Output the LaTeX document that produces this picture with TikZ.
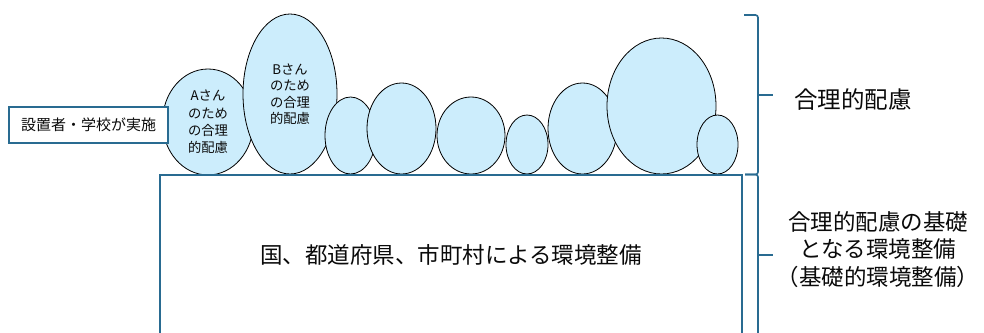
\documentclass[tikz,border=0pt]{standalone}
\usepackage{fontspec}
\setmainfont{Noto Sans CJK JP}
\usetikzlibrary{shapes.geometric}
\definecolor{bubble}{RGB}{204,237,252}
\definecolor{frame}{RGB}{41,107,145}
\definecolor{ink}{RGB}{10,10,10}
\tikzset{
  bub/.style={ellipse, draw=black, line width=0.8pt, fill=bubble, inner sep=0pt, align=center, text=ink,
    font=\fontsize{13.3}{17.3}\selectfont},
  envbox/.style={draw=frame, line width=1.6pt, fill=white, inner sep=0pt, text=ink,
    font=\fontsize{22.5}{26}\selectfont},
  actor/.style={draw=frame, line width=1.8pt, fill=white, inner sep=0pt, text=ink,
    font=\fontsize{15}{18}\selectfont},
  bracepath/.style={draw=frame, line width=1.6pt, rounded corners=2.5pt},
  sidelabel/.style={align=center, text=ink, inner sep=0pt, font=\fontsize{23.5}{27.5}\selectfont}
}
\begin{document}
\begin{tikzpicture}[x=1pt,y=-1pt]
\useasboundingbox (0,0) rectangle (984,332);
\fill[white] (0,0) rectangle (984,332);
% bubbles
\node[bub, minimum width=91pt, minimum height=106pt] (a) at (208,122) {Aさん\\のため\\の合理\\的配慮};
\node[bub, minimum width=94pt, minimum height=160pt, font=\fontsize{13.3}{16.5}\selectfont] (b) at (290,94) {Bさん\\のため\\の合理\\的配慮};
\node[bub, minimum width=51pt, minimum height=77pt] (c3) at (350.5,135.5) {};
\node[bub, minimum width=69pt, minimum height=91pt] (c4) at (401.5,128.5) {};
\node[bub, minimum width=68pt, minimum height=77pt] (c5) at (471,135.5) {};
\node[bub, minimum width=42pt, minimum height=59pt] (c6) at (527,144.5) {};
\node[bub, minimum width=69pt, minimum height=91pt] (c7) at (582.5,128.5) {};
\node[bub, minimum width=109pt, minimum height=136pt] (c8) at (661.5,106) {};
\node[bub, minimum width=41pt, minimum height=59pt] (c9) at (717.5,144.5) {};
% environment box
\node[envbox, minimum width=582pt, minimum height=160pt] (env) at (451,255) {国、都道府県、市町村による環境整備};
% actor box
\node[actor, minimum width=159pt, minimum height=36pt] (act) at (88.5,125) {設置者・学校が実施};
% braces
\coordinate (u1) at (744,15);
\coordinate (um) at (758,95);
\coordinate (j) at (745,174.5);
\coordinate (lm) at (758,255);
\coordinate (l2) at (745,340);
\draw[bracepath] (u1) -| (um) |- (j);
\draw[draw=frame, line width=1.6pt] (um) -- ++(15,0);
\draw[bracepath] (j) -| (lm) |- (l2);
\draw[draw=frame, line width=1.6pt] (lm) -- ++(15,0);
% labels
\node[sidelabel] (rl) at (853,100) {合理的配慮};
\node[sidelabel, font=\fontsize{22.5}{27.5}\selectfont] (bl) at (878,249.5) {合理的配慮の基礎\\となる環境整備\\（基礎的環境整備）};
\end{tikzpicture}
\end{document}
